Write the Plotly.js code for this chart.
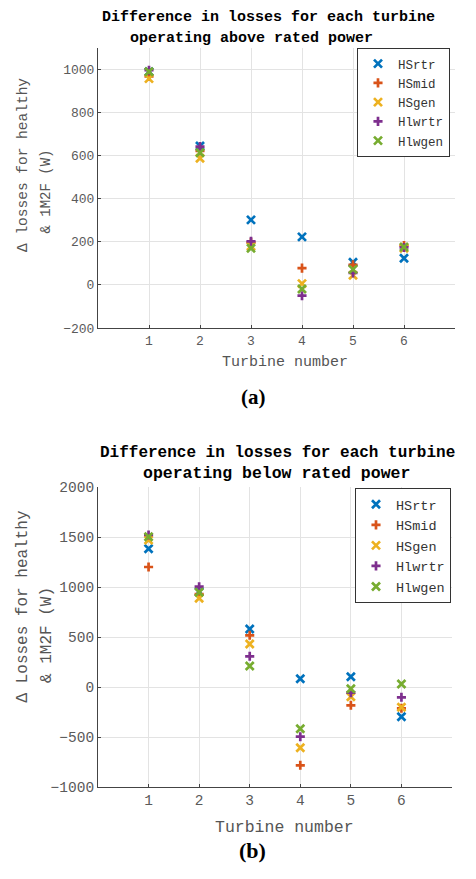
<!DOCTYPE html>
<html>
<head>
<meta charset="utf-8">
<script src="https://cdn.plot.ly/plotly-3.0.1.min.js"></script>
<style>html,body{margin:0;padding:0;background:#fff;}</style>
</head>
<body>
<div id="chart" style="width:476px;height:879px;"></div>
<script>
// ---- data ----
const turbines = [1, 2, 3, 4, 5, 6];
const seriesNames = ["HSrtr", "HSmid", "HSgen", "Hlwrtr", "Hlwgen"];

// (a) operating above rated power
const HSrtr_above  = [990, 645, 302, 223, 105, 124];
const HSmid_above  = [968, 622, 198, 78, 93, 183];
const HSgen_above  = [958, 588, 180, 6, 45, 170];
const Hlwrtr_above = [997, 642, 202, -50, 56, 174];
const Hlwgen_above = [990, 614, 170, -19, 72, 176];

// (b) operating below rated power
const HSrtr_below  = [1383, 953, 580, 83, 103, -297];
const HSmid_below  = [1200, 930, 517, -783, -183, -213];
const HSgen_below  = [1470, 887, 430, -607, -97, -203];
const Hlwrtr_below = [1520, 1003, 307, -497, -57, -103];
const Hlwgen_below = [1503, 947, 210, -417, -17, 30];

const ticksAbove = [-200, 0, 200, 400, 600, 800, 1000];
const ticksBelow = [-1000, -500, 0, 500, 1000, 1500, 2000];

// ---- styling ----
const W = 476, H = 879;
const px = v => v / W;
const py = v => 1 - v / H;
const colors = ["#0072BD", "#D95319", "#EDB120", "#7E2F8E", "#77AC30"];
const symbols = ["x-thin", "cross-thin", "x-thin", "cross-thin", "x-thin"];
const sizes = [8, 6.5, 8, 6.5, 8];
const MONO = "Liberation Mono, Courier New, monospace";

const aboveData = [HSrtr_above, HSmid_above, HSgen_above, Hlwrtr_above, Hlwgen_above];
const belowData = [HSrtr_below, HSmid_below, HSgen_below, Hlwrtr_below, Hlwgen_below];

const traces = [];
aboveData.forEach((ys, i) => traces.push({
  type: "scatter", mode: "markers", x: turbines, y: ys, name: seriesNames[i],
  xaxis: "x", yaxis: "y", legend: "legend",
  marker: {symbol: symbols[i], size: sizes[i], color: colors[i], line: {color: colors[i], width: 2.7}}
}));
belowData.forEach((ys, i) => traces.push({
  type: "scatter", mode: "markers", x: turbines, y: ys, name: seriesNames[i],
  xaxis: "x2", yaxis: "y2", legend: "legend2",
  marker: {symbol: symbols[i], size: sizes[i], color: colors[i], line: {color: colors[i], width: 2.7}}
}));

function xAxis(domain, anchor, fs) {
  return {
    domain: domain, anchor: anchor, range: [0, 7], tickvals: turbines, ticktext: turbines.map(String),
    showgrid: true, gridcolor: "#e3e3e3", gridwidth: 1, zeroline: false,
    showline: true, linecolor: "#444", linewidth: 1, mirror: false,
    ticks: "inside", ticklen: 3, tickcolor: "#444", tickwidth: 1,
    tickfont: {family: MONO, size: fs, color: "#5a5a5a"}, fixedrange: true
  };
}
function yAxis(domain, anchor, range, tv, fs) {
  return {
    domain: domain, anchor: anchor, range: range, tickvals: tv, ticktext: tv.map(v => v < 0 ? "\u2212" + Math.abs(v) : String(v)),
    showgrid: true, gridcolor: "#e3e3e3", gridwidth: 1, zeroline: false,
    showline: true, linecolor: "#444", linewidth: 1, mirror: false,
    ticks: "inside", ticklen: 3, tickcolor: "#444", tickwidth: 1,
    tickfont: {family: MONO, size: fs, color: "#5a5a5a"}, fixedrange: true
  };
}

function ann(text, x, y, size, opts) {
  return Object.assign({
    text: text, xref: "paper", yref: "paper", x: px(x), y: py(y),
    xanchor: "center", yanchor: "middle", showarrow: false,
    font: {family: MONO, size: size, color: "#555"}
  }, opts || {});
}

const annotations = [
  ann("<b>Difference in losses for each turbine</b>", 268.5, 17, 15, {font: {family: MONO, size: 15, color: "#000"}}),
  ann("<b>operating above rated power</b>", 251.5, 38, 15, {font: {family: MONO, size: 15, color: "#000"}}),
  ann("\u0394 losses for healthy", 22.5, 165.5, 14.5, {textangle: -90}),
  ann("& 1M2F (W)", 45.5, 192, 14, {textangle: -90}),
  ann("Turbine number", 285, 362.7, 15),
  ann("<b>(a)</b>", 253, 397, 20, {font: {family: "Liberation Serif, serif", size: 21, color: "#000"}}),

  ann("<b>Difference in losses for each turbine</b>", 277.5, 453, 16, {font: {family: MONO, size: 16, color: "#000"}}),
  ann("<b>operating below rated power</b>", 276, 473, 16.5, {font: {family: MONO, size: 16.5, color: "#000"}}),
  ann("\u0394 Losses for healthy", 22, 606.5, 16, {textangle: -90}),
  ann("& 1M2F (W)", 47, 635, 16, {textangle: -90}),
  ann("Turbine number", 284, 827, 16.5),
  ann("<b>(b)</b>", 252, 850, 21, {font: {family: "Liberation Serif, serif", size: 22, color: "#000"}})
];

const layout = {
  width: W, height: H,
  margin: {l: 0, r: 0, t: 0, b: 0, pad: 0},
  paper_bgcolor: "#fff", plot_bgcolor: "#fff",
  showlegend: true,
  xaxis: xAxis([px(98), px(455)], "y", 13),
  yaxis: yAxis([py(328), py(48)], "x", [-200, 1100], ticksAbove, 13),
  xaxis2: xAxis([px(98), px(452)], "y2", 14.5),
  yaxis2: yAxis([py(787), py(487)], "x2", [-1000, 2000], ticksBelow, 14.5),
  legend: {
    x: px(450), xanchor: "right", y: py(48), yanchor: "top",
    bgcolor: "#fff", bordercolor: "#333", borderwidth: 1, itemwidth: 30,
    font: {family: MONO, size: 12.5, color: "#333"}
  },
  legend2: {
    x: px(451), xanchor: "right", y: py(488), yanchor: "top",
    bgcolor: "#fff", bordercolor: "#333", borderwidth: 1, itemwidth: 30,
    font: {family: MONO, size: 13.5, color: "#333"}
  },
  annotations: annotations
};

Plotly.newPlot("chart", traces, layout, {displayModeBar: false, staticPlot: true});
</script>
</body>
</html>
